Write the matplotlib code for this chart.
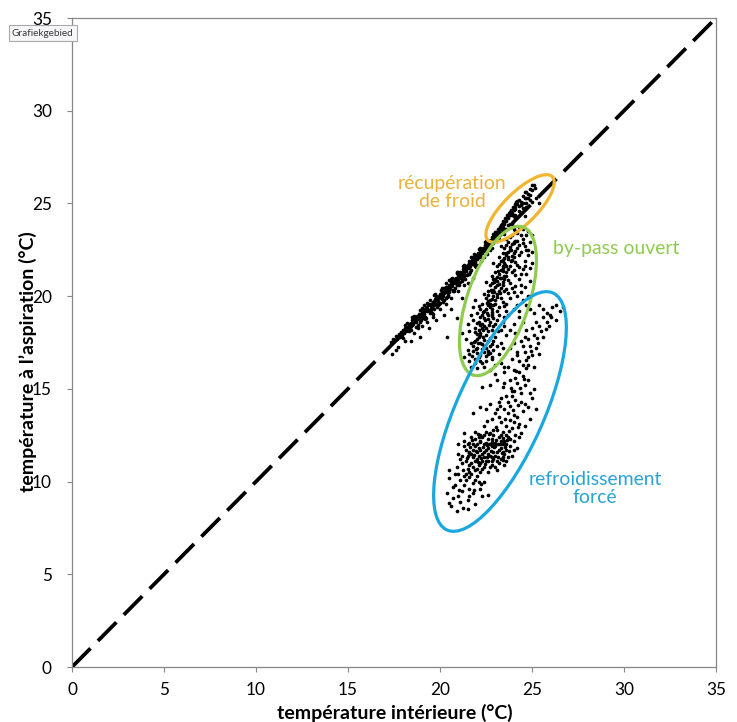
import matplotlib
matplotlib.use("Agg")
import matplotlib.pyplot as plt
from matplotlib.patches import Ellipse

# ---------------- data ----------------
x_ticks = [0, 5, 10, 15, 20, 25, 30, 35]
y_ticks = [0, 5, 10, 15, 20, 25, 30, 35]

# diagonal band (heat recovery / near y = x)
band_pts = [
    (17.35,17.55),(17.45,17.7),(17.5,17.6),(17.6,17.85),(17.65,17.7),(17.75,17.95),(17.8,17.8),(17.9,18.05),
    (17.95,17.9),(18.0,18.2),(18.05,18.0),(18.1,18.3),(18.15,18.1),(18.2,18.35),(18.25,18.2),(18.3,18.5),
    (18.35,18.3),(18.4,18.55),(18.45,18.4),(18.5,18.7),
    (17.4,16.9),(17.7,17.25),(18.1,17.6),(17.6,17.1),(18.6,18.0),(19.0,18.4),(19.3,18.6),(18.8,18.3),
    (18.55,18.5),(18.6,18.9),(18.65,18.7),(18.7,18.6),(18.75,18.95),(18.8,18.75),(18.85,19.05),(18.9,18.85),
    (18.95,18.7),(19.0,19.15),(19.05,18.95),(19.1,19.3),(19.15,19.05),(19.2,18.9),(19.25,19.4),(19.3,19.2),
    (19.35,19.5),(19.4,19.25),(19.45,19.1),(19.5,19.6),(19.55,19.4),(19.6,19.7),(19.65,19.5),(19.7,19.3),
    (19.75,19.85),(19.8,19.6),(19.85,19.95),(19.9,19.75),(19.95,19.55),(20.0,20.1),(20.05,19.9),(20.1,20.25),
    (20.15,20.0),(20.2,19.8),(20.25,20.4),(20.3,20.2),(20.35,20.5),(20.4,20.3),(20.45,20.05),(20.5,20.6),
    (20.55,20.4),(20.6,20.75),(20.65,20.55),(20.7,20.35),(20.75,20.9),(20.8,20.7),(20.85,21.0),(20.9,20.8),
    (20.95,20.6),(21.0,21.15),
    (18.6,18.75),(18.9,19.0),(19.2,19.25),(19.5,19.45),(19.8,19.8),(20.1,20.05),(20.4,20.45),(20.7,20.7),
    (21.0,20.95),(19.0,18.95),(19.6,19.55),(20.2,20.15),(20.8,20.85),
    (21.05,21.0),(21.1,21.3),(21.15,21.1),(21.2,20.9),(21.25,21.45),(21.3,21.25),(21.35,21.55),(21.4,21.35),
    (21.45,21.15),(21.5,21.7),(21.55,21.5),(21.6,21.8),(21.65,21.6),(21.7,21.4),(21.75,21.95),(21.8,21.75),
    (21.85,22.05),(21.9,21.85),(21.95,22.2),(22.0,22.0),(22.05,22.3),(22.1,22.1),(22.15,22.4),(22.2,22.2),
    (22.25,22.5),(22.3,22.3),(22.35,22.6),(22.4,22.45),(22.45,22.75),(22.5,22.55),(22.55,22.85),(22.6,22.65),
    (22.65,22.95),(22.7,22.8),(22.75,23.05),(22.8,22.9),(22.85,23.2),(22.9,23.0),(22.95,23.3),(23.0,23.15),
    (21.3,21.4),(21.6,21.65),(21.9,22.0),(22.2,22.35),(22.5,22.7),(22.8,23.05),
    (23.05,23.45),(23.1,23.3),(23.15,23.6),(23.2,23.45),(23.25,23.75),(23.3,23.6),(23.35,23.9),(23.4,23.75),
    (23.45,24.05),(23.5,23.9),(23.55,24.2),(23.6,24.05),(23.65,24.35),(23.7,24.2),(23.75,24.5),(23.8,24.35),
    (23.85,24.65),(23.9,24.5),(23.95,24.8),(24.0,24.65),(24.05,24.95),(24.1,24.8),(24.15,25.1),(24.2,24.95),
    (24.3,25.2),(24.4,25.1),(24.5,25.4),(24.6,25.3),(24.7,25.6),(24.8,25.5),(24.9,25.8),(25.0,25.7),(25.1,26.0),
    (23.5,23.6),(23.8,23.9),(24.1,24.2),(24.4,24.5),(24.7,24.8),(25.0,25.1),(25.2,25.3),(25.4,25.0),(24.6,24.3),
]

# thickness of the band (upper and lower edges) and stragglers below it
band_edge_pts = [
    (18.0,17.75),(18.2,18.55),(18.4,18.15),(18.6,18.95),(18.8,18.45),(19.0,19.35),(19.2,18.75),(19.4,19.6),
    (19.6,19.05),(19.8,20.0),(20.0,19.65),(20.2,20.45),(20.4,19.95),(20.6,20.9),(20.8,20.45),(21.0,21.3),
    (21.2,20.8),(21.4,21.65),(21.6,21.2),(21.8,22.1),(22.0,21.7),(22.2,22.55),(22.4,22.1),(22.6,23.0),
    (22.8,22.6),(23.0,23.45),(23.2,23.1),(23.4,23.95),(23.6,23.6),(23.8,24.55),(24.0,24.3),(24.2,25.15),
    (24.4,24.9),(24.6,25.6),(24.8,25.3),(25.0,26.0),
    (18.1,18.45),(18.3,18.1),(18.5,18.85),(18.7,18.35),(18.9,19.25),(19.1,18.8),(19.3,19.65),(19.5,19.15),
    (19.7,20.05),(19.9,19.5),(20.1,20.45),(20.3,19.9),(20.5,20.85),(20.7,20.3),(20.9,21.25),(21.1,20.75),
    (21.3,21.7),(21.5,21.2),(21.7,22.1),(21.9,21.6),(22.1,22.55),(22.3,22.05),(22.5,22.95),(22.7,22.5),
    (22.9,23.35),(23.1,22.95),(23.3,23.85),(23.5,23.35),(23.7,24.3),(23.9,23.9),(24.1,24.7),(24.3,24.6),
    (24.5,25.0),(24.7,25.0),(24.9,25.45),(25.15,25.85),
    (19.6,18.9),(20.0,19.3),(20.3,19.6),(19.8,18.7),(20.6,19.9),(21.0,20.3),(21.3,20.6),(20.2,19.0),
    (18.4,17.6),(18.9,17.8),(19.4,18.3),(21.5,20.7),(21.8,21.0),
]

band_fill_pts = [
    (18.3,18.35),(18.5,18.45),(18.7,18.8),(18.9,18.6),(19.1,19.1),(19.3,19.35),(19.5,19.3),(19.7,19.7),
    (19.9,19.9),(20.1,19.85),(20.3,20.35),(20.5,20.25),(20.7,20.85),(20.9,20.65),(21.1,21.15),(21.3,21.1),
    (21.5,21.55),(21.7,21.8),(21.9,21.7),(22.1,22.25),(22.3,22.45),(22.5,22.4),(22.7,22.95),(22.9,22.85),
    (23.1,23.45),(23.3,23.4),(23.5,24.0),(23.7,23.85),(23.9,24.4),(24.1,24.35),(24.3,24.85),(24.5,24.75),
    (24.7,25.3),(24.9,25.2),
    (19.15,19.5),(19.45,19.8),(19.75,20.1),(20.05,20.35),(20.35,20.7),(20.65,21.0),(20.95,21.3),(21.25,21.6),
    (21.55,21.9),(21.85,22.25),(22.15,22.6),(22.45,22.9),
    (19.25,18.8),(19.55,19.1),(19.85,19.4),(20.15,19.7),(20.45,20.0),(20.75,20.3),(21.05,20.6),(21.35,20.95),
    (21.65,21.3),(21.95,21.55),(22.25,21.9),(22.55,22.25),
]

# by-pass open cluster
bypass_pts = [
    (21.7,16.2),(22.0,16.1),(22.3,16.4),(21.9,16.6),(22.5,16.5),(22.2,16.8),(21.6,16.9),(22.8,16.7),
    (23.0,16.3),(22.4,17.0),(21.3,16.7),(22.7,16.95),
    (21.5,17.1),(21.8,17.3),(22.0,17.2),(22.2,17.5),(22.4,17.3),(22.6,17.6),(22.1,17.8),(21.9,17.6),
    (22.8,17.4),(23.0,17.8),(22.5,17.9),(23.3,17.5),(21.4,17.7),(22.3,17.15),(22.7,17.75),(23.6,17.9),
    (22.0,17.95),(22.9,17.1),
    (21.6,18.1),(21.9,18.3),(22.1,18.2),(22.3,18.5),(22.5,18.3),(22.7,18.6),(22.4,18.8),(22.2,18.9),
    (22.9,18.4),(23.1,18.7),(23.3,18.2),(22.6,19.0),(21.8,18.7),(23.5,18.9),(24.0,18.5),(22.0,18.55),
    (22.8,18.95),(23.2,19.0),(24.3,18.9),(22.35,18.15),
    (22.0,19.1),(22.2,19.3),(22.4,19.2),(22.6,19.5),(22.8,19.3),(23.0,19.6),(22.7,19.8),(22.5,19.9),
    (23.2,19.4),(23.4,19.7),(23.6,19.2),(22.9,20.0),(22.3,19.6),(23.8,19.9),(24.2,19.5),(24.5,19.8),
    (23.1,19.95),(22.85,19.15),(23.5,19.45),(21.8,19.4),
    (22.4,20.1),(22.6,20.3),(22.8,20.2),(23.0,20.5),(23.2,20.3),(23.4,20.6),(23.1,20.8),(22.9,20.9),
    (23.6,20.4),(23.8,20.7),(24.0,20.2),(23.3,21.0),(22.7,20.6),(24.3,20.9),(24.6,20.5),(24.9,20.8),
    (23.5,20.95),(22.5,20.75),(24.1,20.55),(23.7,20.15),
    (22.8,21.1),(23.0,21.3),(23.2,21.2),(23.4,21.5),(23.6,21.3),(23.8,21.6),(23.5,21.8),(23.3,21.9),
    (24.0,21.4),(24.2,21.7),(24.4,21.2),(23.7,22.0),(23.1,21.6),(24.6,21.9),(24.9,21.5),(25.0,21.8),
    (23.9,21.95),(22.9,21.8),(24.5,21.45),(24.1,21.15),
    (23.2,22.1),(23.4,22.3),(23.6,22.2),(23.8,22.5),(24.0,22.3),(24.2,22.6),(23.9,22.8),(23.7,22.9),
    (24.4,22.4),(24.6,22.7),(24.8,22.2),(24.1,23.0),(23.5,22.6),(24.9,22.9),(25.0,23.3),(24.5,23.1),(23.3,22.7),
    (23.6,23.1),(23.9,23.3),(24.2,23.4),(24.5,23.6),(24.8,23.5),(24.3,23.75),(24.0,23.6),
    (24.0,17.5),(24.6,17.8),(24.2,17.0),(23.9,16.6),(23.5,16.2),(21.2,18.0),
    (20.4,17.8),(20.9,18.8),(20.6,19.3),(21.2,19.9),
]

bypass_more_pts = [
    (21.9,16.4),(22.1,16.7),(22.4,16.2),(22.6,16.9),(22.0,16.95),(21.8,17.05),(22.3,17.4),(22.5,17.2),
    (22.7,17.3),(21.7,17.5),(22.0,17.7),(22.4,17.65),(22.9,17.6),(22.2,18.0),(22.6,18.1),(21.9,18.05),
    (22.4,18.4),(22.8,18.2),(22.1,18.6),(22.6,18.75),(23.0,18.5),(22.3,19.0),(22.9,18.8),(23.4,18.6),
    (22.5,19.3),(22.1,19.45),(22.7,19.6),(23.1,19.2),(23.3,19.9),(22.6,19.75),(22.9,19.5),(23.6,19.6),
    (22.6,20.05),(22.9,20.35),(23.1,20.1),(23.3,20.45),(22.8,20.7),(23.5,20.3),(23.0,20.95),(23.7,20.85),
    (23.2,20.65),(23.9,20.45),(23.1,21.05),(23.3,21.4),(23.5,21.1),(23.7,21.45),(23.2,21.75),(23.9,21.3),
    (23.4,21.95),(24.1,21.85),(23.6,21.65),(24.3,21.55),(23.5,22.05),(23.7,22.4),(23.9,22.15),(24.1,22.45),
    (23.6,22.75),(24.3,22.2),(24.0,22.9),(24.5,22.85),(24.2,22.95),(24.7,22.5),(23.8,23.2),(24.4,23.3),
    (24.7,23.3),(24.1,23.5),
    (24.3,19.2),(24.7,19.5),(24.4,20.2),(24.8,20.0),(24.7,21.2),(25.0,22.4),(23.8,18.2),(24.1,18.0),
    (23.8,17.2),(23.2,16.9),(23.4,17.2),(21.6,16.5),(21.5,18.5),(21.7,19.0),(21.9,19.8),
]

bypass_fill_pts = [
    (22.05,17.45),(22.15,17.9),(22.3,18.3),(22.45,18.7),(22.55,19.1),(22.7,19.4),(22.8,19.85),(22.95,20.25),
    (23.1,20.6),(23.25,21.0),(23.4,21.35),(23.55,21.7),(23.7,22.1),(23.85,22.5),(24.0,22.85),
    (21.85,17.55),(22.35,17.8),(22.2,18.45),(22.65,18.45),(22.35,19.15),(22.8,19.05),(22.55,19.65),(23.0,19.8),
    (22.75,20.35),(23.25,20.15),(22.95,20.75),(23.45,20.75),(23.15,21.35),(23.6,21.1),(23.4,21.6),(23.85,21.9),
    (23.6,22.35),(24.0,22.1),(23.8,22.65),(24.3,22.75),
    (21.75,16.75),(22.15,16.5),(22.5,16.75),(21.95,17.15),(22.6,17.05),(23.1,17.3),(23.15,18.1),(23.5,18.4),
    (23.7,19.0),(24.0,19.3),(24.2,20.0),(24.4,20.6),(24.6,21.6),(24.8,22.5),
]

# forced cooling cluster
forced_pts = [
    (24.9,19.3),(25.4,19.5),(25.8,19.1),(26.1,19.4),(26.5,19.2),(25.6,18.9),(26.3,18.7),(25.2,18.6),
    (25.9,18.4),(24.7,18.2),(25.1,17.9),(25.5,18.1),(24.4,17.6),(24.9,17.3),(25.3,17.5),(24.6,17.0),
    (25.0,16.8),(24.3,16.5),(25.4,16.9),(24.8,16.3),(25.6,17.8),
    (23.5,15.9),(24.0,16.0),(24.5,15.7),(23.8,15.5),(24.2,15.3),(24.8,15.5),(23.4,15.1),(23.9,14.9),
    (24.4,14.8),(25.1,15.0),(23.6,14.6),(24.1,14.4),(24.6,14.2),(23.2,14.3),(23.8,14.1),(25.0,14.5),
    (24.3,15.9),(23.1,15.5),(24.7,16.1),(23.7,16.2),
    (22.8,16.6),(23.0,15.8),(22.7,15.2),(23.3,16.4),(22.3,15.1),(22.7,16.0),
    (22.5,13.9),(23.0,13.7),(23.5,13.9),(24.0,13.6),(24.5,13.8),(22.8,13.4),(23.3,13.2),(23.8,13.3),
    (24.3,13.1),(24.9,13.4),(22.4,13.0),(22.9,12.8),(23.4,12.7),(23.9,12.9),(24.4,12.6),(22.2,12.5),
    (22.7,12.6),(23.2,13.5),(23.6,12.5),(25.2,13.9),(21.8,13.7),(22.2,14.0),
    (21.0,11.5),(21.2,11.0),(21.3,11.9),(21.5,10.7),(21.5,11.4),(21.6,12.1),(21.7,11.0),(21.8,11.7),
    (21.9,10.6),(21.9,12.3),(22.0,11.2),(22.1,11.8),(22.1,10.9),(22.2,12.2),(22.3,11.5),(22.3,10.7),
    (22.4,12.0),(22.5,11.1),(22.5,11.7),(22.6,10.5),(22.6,12.3),(22.7,11.4),(22.8,10.9),(22.8,11.9),
    (22.9,11.2),(23.0,12.1),(23.0,10.8),(23.1,11.6),(23.2,12.4),(23.2,11.0),(23.3,11.8),(23.4,11.3),
    (23.5,12.2),(23.6,11.7),(23.7,12.4),(23.8,11.9),(24.0,12.2),(24.2,11.8),(24.3,12.4),(21.4,11.7),
    (21.7,12.4),(22.0,11.6),(22.4,11.3),(22.7,12.0),(23.1,10.6),(23.4,12.0),(23.9,11.4),(22.2,11.0),
    (22.9,11.6),(21.8,11.3),(22.6,11.8),(23.3,12.5),(22.0,12.0),(22.4,10.8),(23.6,11.1),(21.6,11.6),
    (22.8,12.3),(23.0,11.4),(22.3,12.4),(21.9,11.9),
    (20.5,10.2),(20.8,9.8),(21.0,10.4),(21.2,9.5),(21.4,10.1),(21.6,9.2),(21.8,9.9),(22.0,10.3),
    (22.2,9.6),(21.1,8.9),(20.6,8.7),(21.5,8.5),(21.9,8.8),(22.4,10.0),(20.4,9.4),(21.7,10.4),
    (22.6,9.3),(20.9,8.4),(21.3,10.3),(20.5,8.85),(21.25,8.6),(21.8,9.4),(20.7,9.7),(20.5,10.6),(21.1,10.1),
]

forced_more_pts = [
    (21.2,11.4),(21.4,11.1),(21.6,10.9),(21.8,10.8),(21.3,12.2),(21.5,12.0),(21.7,11.5),(21.9,11.1),
    (22.1,11.4),(22.2,11.7),(22.4,11.6),(22.5,12.1),(22.6,11.5),(22.7,10.8),(22.8,11.1),(22.9,12.0),
    (23.0,11.9),(23.1,11.1),(23.2,11.7),(23.3,11.2),(23.4,11.6),(23.5,11.5),(23.6,12.0),(23.7,11.3),
    (23.8,12.3),(24.0,11.7),(24.1,12.5),(22.0,10.7),(22.3,11.1),(22.6,11.1),(21.8,12.0),(22.1,12.4),
    (22.4,12.5),(22.9,12.5),(23.3,12.2),(23.5,10.9),(22.2,10.5),(21.6,10.5),(21.4,10.4),(20.9,10.8),
    (21.1,11.2),(21.0,12.0),(21.3,12.6),(21.9,12.7),(22.5,12.7),(23.1,12.8),(23.6,13.0),(24.0,13.2),
    (24.6,13.0),(24.2,13.5),(23.7,13.7),(23.1,13.9),(22.7,14.2),(23.3,14.5),(23.9,14.6),(24.4,14.3),
    (24.8,14.0),(23.5,15.3),(24.1,15.6),(24.6,15.2),(24.0,14.9),(24.9,14.8),(23.7,14.3),(24.5,16.3),
    (25.1,16.2),(24.2,16.8),(24.8,16.7),(24.5,17.3),(25.2,17.2),(24.8,17.7),(25.0,18.3),(25.4,18.4),
    (25.8,18.6),(24.5,18.6),(26.0,19.0),(25.6,19.3),(25.1,19.1),(26.3,19.5),(26.7,19.4),(21.3,9.8),
    (21.6,9.6),(21.9,10.1),(22.1,10.0),(20.8,10.4),(21.0,9.2),(20.7,9.1),(22.3,9.2),(21.5,9.0),
]

forced_fill_pts = [
    (21.45,11.25),(21.65,11.85),(21.85,11.45),(22.05,11.05),(22.15,12.15),(22.35,11.85),(22.45,10.95),
    (22.55,11.35),(22.65,12.05),(22.75,11.65),(22.85,11.35),(22.95,11.85),(23.05,12.25),(23.15,11.35),
    (23.25,12.05),(23.35,11.55),(23.45,12.35),(23.55,11.85),(23.65,12.25),(23.75,11.65),(21.55,11.55),
    (21.75,12.25),(21.95,11.65),(22.25,11.25),(22.55,11.95),(22.85,12.15),(23.15,12.05),(23.45,11.15),
    (22.05,12.55),(22.65,12.55),(23.05,12.95),(23.55,13.35),(23.95,13.85),(24.25,14.15),(24.35,15.05),
    (24.55,15.55),(23.85,15.05),(24.15,15.95),(24.65,16.55),(24.95,17.05),(25.25,17.75),(25.75,18.25),
    (26.05,18.85),(24.25,12.95),(22.55,13.25),(23.25,14.05),(23.75,12.75),(21.25,10.65),(21.55,10.25),
    (22.25,9.85),(21.85,9.55),(21.05,9.55),
]

# ---------------- figure ----------------
plt.rcParams['font.family'] = ['Lato', 'DejaVu Sans']
W, H = 737, 722

fig = plt.figure(figsize=(W / 100, H / 100), dpi=100)
ax = fig.add_axes([72 / W, 1 - 667 / H, (716 - 72) / W, (667 - 18) / H])

ax.plot([0, 35], [0, 35], color='black', lw=2.7, dashes=(7, 2.8), zorder=2)

for pts in (band_pts, band_edge_pts, band_fill_pts, bypass_pts, bypass_more_pts,
            bypass_fill_pts, forced_pts, forced_more_pts, forced_fill_pts):
    xs = [p[0] for p in pts]
    ys = [p[1] for p in pts]
    ax.scatter(xs, ys, s=7, c='black', marker='o', linewidths=0, zorder=3)

ax.add_patch(Ellipse((24.35, 24.73), 4.9, 1.75, angle=44.3, fill=False,
                     edgecolor='#F2B530', lw=2.3, zorder=4))
ax.add_patch(Ellipse((23.15, 19.74), 8.43, 3.36, angle=71.2, fill=False,
                     edgecolor='#8FCB4E', lw=2.3, zorder=4))
ax.add_patch(Ellipse((23.26, 13.78), 14.02, 4.75, angle=65.7, fill=False,
                     edgecolor='#1AA7E0', lw=2.3, zorder=4))

ax.set_xlim(0, 35)
ax.set_ylim(0, 35)
ax.set_xticks(x_ticks)
ax.set_yticks(y_ticks)
for s in ax.spines.values():
    s.set_color('#868686')
    s.set_linewidth(0.9)

renderer = fig.canvas.get_renderer()


def fit_size(txt, target_px, bold=False):
    t = fig.text(0, 0, txt, fontsize=10, fontweight='bold' if bold else 'normal')
    w = t.get_window_extent(renderer).width
    t.remove()
    return 10 * target_px / w


tick_fs = fit_size('20', 20)
ann_fs = fit_size('refroidissement', 134)
lab_fs = fit_size('température intérieure (°C)', 235, bold=True)
tip_fs = fit_size('Grafiekgebied', 62)

ax.tick_params(axis='both', labelsize=tick_fs, length=5 * 0.72, width=0.8,
               color='#868686', direction='out')
ax.tick_params(axis='x', pad=7.5)
ax.tick_params(axis='y', pad=10.8)


def px2data(px, py):
    return ((px - 72) / 18.4, (667 - py) / 18.543)


x, y = px2data(452, 192.5)
ax.text(x, y, 'récupération\nde froid', color='#E9B23A', fontsize=ann_fs,
        ha='center', va='center', linespacing=1.12)
x, y = px2data(553, 248)
ax.text(x, y, 'by-pass ouvert', color='#8FCB4E', fontsize=ann_fs,
        ha='left', va='center')
x, y = px2data(595, 488.5)
ax.text(x, y, 'refroidissement\nforcé', color='#2AA2D6', fontsize=ann_fs,
        ha='center', va='center', linespacing=1.12)

fig.text(395 / W, 1 - 713 / H, 'température intérieure (°C)', fontsize=lab_fs,
         fontweight='bold', ha='center', va='center')
fig.text(28 / W, 1 - 361.5 / H, 'température à l’aspiration (°C)', fontsize=lab_fs,
         fontweight='bold', ha='center', va='center', rotation=90)

fig.text(12 / W, 1 - 33 / H, 'Grafiekgebied', fontsize=tip_fs, color='#3A3A3A',
         va='center', ha='left', zorder=10,
         bbox=dict(boxstyle='square,pad=0.3', fc='#F7F7FA', ec='#A8A8A8', lw=0.8))

fig.savefig('out.png', dpi=100)
